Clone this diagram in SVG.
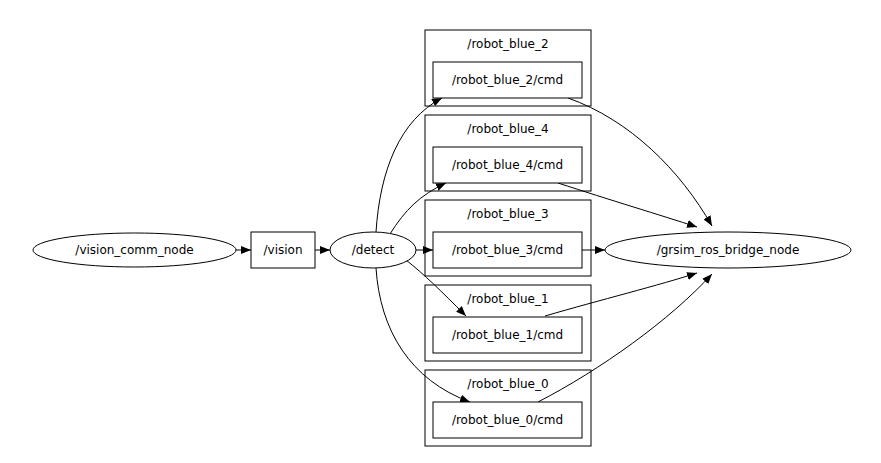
<svg xmlns="http://www.w3.org/2000/svg" width="881" height="463" viewBox="0 0 881 463">
<style>
text{font-family:"DejaVu Sans",sans-serif;font-size:12px;text-anchor:middle;fill:#000}
.s{fill:none;stroke:#000;stroke-width:1}
.n{fill:#fff;stroke:#000;stroke-width:1}
</style>
<defs><marker id="a" markerWidth="10" markerHeight="8" refX="10" refY="4" orient="auto" markerUnits="userSpaceOnUse"><path d="M0,0L10,4L0,8z" fill="#000"/></marker></defs>
<rect width="881" height="463" fill="#fff"/>
<g id="clusters">
<g id="c2"><rect class="n" x="425" y="30" width="166" height="76"/><text x="508" y="48">/robot_blue_2</text></g>
<g id="c4"><rect class="n" x="425" y="115" width="166" height="76"/><text x="508" y="133">/robot_blue_4</text></g>
<g id="c3"><rect class="n" x="425" y="200" width="166" height="76"/><text x="508" y="218">/robot_blue_3</text></g>
<g id="c1"><rect class="n" x="425" y="285" width="166" height="76"/><text x="508" y="303">/robot_blue_1</text></g>
<g id="c0"><rect class="n" x="425" y="370" width="166" height="76"/><text x="508" y="388">/robot_blue_0</text></g>
</g>
<g id="edges" class="s">
<path d="M236,250L251,250" marker-end="url(#a)"/>
<path d="M315,250L330,250" marker-end="url(#a)"/>
<path d="M416,250L433,250" marker-end="url(#a)"/>
<path d="M376,232C380,170 400,120 442,98" marker-end="url(#a)"/>
<path d="M390,234C405,210 420,195 446,183" marker-end="url(#a)"/>
<path d="M406,260C425,275 440,290 466,316" marker-end="url(#a)"/>
<path d="M376,268C380,330 410,380 470,402" marker-end="url(#a)"/>
<path d="M568,98C630,120 680,170 712,226" marker-end="url(#a)"/>
<path d="M558,183C610,200 660,215 697,227" marker-end="url(#a)"/>
<path d="M582,250L605,250" marker-end="url(#a)"/>
<path d="M545,316C600,300 660,285 697,273" marker-end="url(#a)"/>
<path d="M538,402C600,370 670,320 712,274" marker-end="url(#a)"/>
</g>
<g id="vision_comm_node"><ellipse class="n" cx="134.5" cy="250" rx="101.5" ry="17"/><text x="134.5" y="254">/vision_comm_node</text></g>
<g id="vision"><rect class="n" x="251" y="232" width="64" height="36"/><text x="283" y="254">/vision</text></g>
<g id="detect"><ellipse class="n" cx="373" cy="250" rx="43" ry="18"/><text x="373" y="254">/detect</text></g>
<g id="cmd2"><rect class="n" x="433" y="62" width="149" height="36"/><text x="507.5" y="84">/robot_blue_2/cmd</text></g>
<g id="cmd4"><rect class="n" x="433" y="147" width="149" height="36"/><text x="507.5" y="169">/robot_blue_4/cmd</text></g>
<g id="cmd3"><rect class="n" x="433" y="232" width="149" height="36"/><text x="507.5" y="254">/robot_blue_3/cmd</text></g>
<g id="cmd1"><rect class="n" x="433" y="317" width="149" height="36"/><text x="507.5" y="339">/robot_blue_1/cmd</text></g>
<g id="cmd0"><rect class="n" x="433" y="402" width="149" height="36"/><text x="507.5" y="424">/robot_blue_0/cmd</text></g>
<g id="grsim"><ellipse class="n" cx="728" cy="250" rx="123" ry="18"/><text x="728" y="254">/grsim_ros_bridge_node</text></g>
</svg>
